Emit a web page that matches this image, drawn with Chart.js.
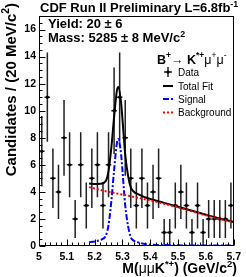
<!DOCTYPE html>
<html>
<head>
<meta charset="utf-8">
<script src="https://cdn.jsdelivr.net/npm/chart.js@4.4.1/dist/chart.umd.min.js"></script>
<style>
    html, body { margin: 0; padding: 0; background: #fff; }
    #wrap { width: 246px; height: 277px; }
</style>
</head>
<body>
<div id="wrap"><canvas id="massChart" width="246" height="277"></canvas></div>
<script>
// bins of 20 MeV/c2, centres in GeV/c2
const binCenters = [5.01, 5.03, 5.05, 5.07, 5.09, 5.11, 5.13, 5.15, 5.17, 5.19, 5.21, 5.23,
    5.25, 5.27, 5.29, 5.31, 5.33, 5.35, 5.37, 5.39, 5.41, 5.43, 5.45, 5.47,
    5.49, 5.51, 5.53, 5.55, 5.57, 5.59, 5.61, 5.63, 5.65, 5.67, 5.69];
const counts = [7, 11, 5, 4, 8, 6, 2, 6, 3, 5, 6, 3,
    6, 10, 11, 8, 5, 3, 5, 3, 4, 5, 1, 1,
    3, 4, 3, 1, 3, 1, 2, 2, 2, 2, 3];
const countErrors = [2.6, 3.3, 2.2, 2.0, 2.8, 2.4, 1.4, 2.4, 1.7, 2.2, 2.4, 1.7,
    2.4, 3.2, 3.3, 2.8, 2.2, 1.7, 2.2, 1.7, 2.0, 2.2, 1.0, 1.0,
    1.7, 2.0, 1.7, 1.0, 1.7, 1.0, 1.4, 1.4, 1.4, 1.4, 1.7];
const binHalfWidth = 0.01;

// fit curves
const fitMass = [5.18, 5.20, 5.22, 5.24, 5.25, 5.26, 5.27, 5.28, 5.285, 5.295, 5.30, 5.31,
    5.32, 5.33, 5.34, 5.36, 5.38, 5.40, 5.45, 5.50, 5.55, 5.60, 5.65, 5.70];
const totalFit = [4.62, 4.58, 4.6, 4.8, 5.55, 7.26, 9.52, 11.48, 11.76, 10.62, 9.4, 6.76,
    5.22, 4.33, 4.03, 3.8, 3.61, 3.47, 3.19, 2.9, 2.6, 2.31, 2.03, 1.78];
const signalFit = [0.27, 0.33, 0.45, 0.75, 1.55, 3.3, 5.6, 7.6, 7.9, 6.8, 5.6, 3.0,
    1.5, 0.65, 0.4, 0.25, 0.15, 0.1, 0.07, 0.05, 0.04, 0.04, 0.03, 0.03];
const backgroundFit = [4.35, 4.25, 4.15, 4.05, 4.0, 3.96, 3.92, 3.88, 3.86, 3.82, 3.8, 3.76,
    3.72, 3.68, 3.63, 3.55, 3.46, 3.37, 3.12, 2.85, 2.56, 2.27, 2.0, 1.75];

const xTickValues = [5, 5.1, 5.2, 5.3, 5.4, 5.5, 5.6, 5.7];
const xTickLabels = ['5', '5.1', '5.2', '5.3', '5.4', '5.5', '5.6', '5.7'];
const yTickValues = [0, 2, 4, 6, 8, 10, 12, 14, 16];
const yTickLabels = ['0', '2', '4', '6', '8', '10', '12', '14', '16'];

const FONT = '"Liberation Sans", Arial, Helvetica, sans-serif';

function richWidth(ctx, parts, size, bold) {
    let w = 0;
    parts.forEach(p => {
        const sz = p.sup ? size * 0.68 : size;
        const b = (p.bold !== undefined ? p.bold : bold) ? 'bold ' : '';
        ctx.font = `${b}${sz}px ${FONT}`;
        w += ctx.measureText(p.t).width;
    });
    return w;
}

function drawRich(ctx, parts, x, y, size, bold) {
    let cx = x;
    parts.forEach(p => {
        const sz = p.sup ? size * 0.68 : size;
        const b = (p.bold !== undefined ? p.bold : bold) ? 'bold ' : '';
        ctx.font = `${b}${sz}px ${FONT}`;
        ctx.fillText(p.t, cx, p.sup ? y - size * 0.42 : y);
        cx += ctx.measureText(p.t).width;
    });
}

const rootStyle = {
    id: 'rootStyle',
    beforeDatasetsDraw(chart) {
        const ctx = chart.ctx;
        const xs = chart.scales.x, ys = chart.scales.y;
        ctx.save();
        ctx.strokeStyle = '#222';
        ctx.lineWidth = 1.5;
        binCenters.forEach((m, i) => {
            const px = xs.getPixelForValue(m);
            const py = ys.getPixelForValue(counts[i]);
            ctx.beginPath();
            ctx.moveTo(px, ys.getPixelForValue(Math.max(0, counts[i] - countErrors[i])));
            ctx.lineTo(px, ys.getPixelForValue(counts[i] + countErrors[i]));
            ctx.moveTo(xs.getPixelForValue(m - binHalfWidth), py);
            ctx.lineTo(xs.getPixelForValue(m + binHalfWidth), py);
            ctx.stroke();
        });
        ctx.restore();
    },
    afterDraw(chart) {
        const ctx = chart.ctx;
        const a = chart.chartArea;
        const xs = chart.scales.x, ys = chart.scales.y;
        const L = Math.round(a.left) + 0.5, R = Math.round(a.right) - 0.5;
        const T = Math.round(a.top) + 0.5, B = Math.round(a.bottom) - 0.5;
        ctx.save();
        ctx.strokeStyle = '#000';
        ctx.lineWidth = 1;
        ctx.strokeRect(L, T, R - L, B - T);

        // ticks inside the frame
        ctx.beginPath();
        for (let k = 0; k <= 35; k++) {
            const px = Math.round(xs.getPixelForValue(5 + k * 0.02)) + 0.5;
            const len = k % 5 === 0 ? 6 : 3;
            ctx.moveTo(px, B);
            ctx.lineTo(px, B - len);
        }
        for (let k = 0; k <= 34; k++) {
            const py = Math.round(ys.getPixelForValue(k * 0.5)) + 0.5;
            const len = k % 4 === 0 ? 6 : 3;
            ctx.moveTo(L, py);
            ctx.lineTo(L + len, py);
        }
        ctx.stroke();

        ctx.fillStyle = '#000';
        ctx.textBaseline = 'alphabetic';
        ctx.textAlign = 'left';

        // title
        drawRich(ctx, [{ t: 'CDF Run II Preliminary L=6.8fb' }, { t: '-1', sup: true }], 40, 12, 13, true);

        // fit results
        drawRich(ctx, [{ t: 'Yield: 20 \u00b1 6' }], 48, 28, 13, true);
        drawRich(ctx, [{ t: 'Mass: 5285 \u00b1 8 MeV/c' }, { t: '2', sup: true }], 48, 42, 13, true);

        // axis titles
        const xTitle = [{ t: 'M(' }, { t: '\u03bc\u03bc', bold: false }, { t: 'K' }, { t: '*+', sup: true },
            { t: ') (GeV/c' }, { t: '2', sup: true }, { t: ')' }];
        const xw = richWidth(ctx, xTitle, 14, true);
        drawRich(ctx, xTitle, 237 - xw, 273, 14, true);

        const yTitle = [{ t: 'Candidates / (20 MeV/c' }, { t: '2', sup: true }, { t: ')' }];
        const yw = richWidth(ctx, yTitle, 15, true);
        ctx.save();
        ctx.translate(15.5, 3 + yw);
        ctx.rotate(-Math.PI / 2);
        drawRich(ctx, yTitle, 0, 0, 15, true);
        ctx.restore();

        // legend
        drawRich(ctx, [{ t: 'B' }, { t: '+', sup: true }, { t: '\u2192 ', bold: false }, { t: 'K' }, { t: '*+', sup: true },
            { t: '\u03bc', bold: false }, { t: '+', sup: true, bold: false }, { t: '\u03bc', bold: false }, { t: '-', sup: true, bold: false }],
            157, 63.5, 12.5, true);

        const mx0 = 163, mx1 = 173, tx = 178;
        ctx.lineWidth = 1.5;
        ctx.strokeStyle = '#222';
        ctx.beginPath();
        ctx.moveTo(168, 67); ctx.lineTo(168, 77);
        ctx.moveTo(164, 72); ctx.lineTo(172, 72);
        ctx.stroke();
        ctx.beginPath();
        ctx.arc(168, 72, 1.5, 0, Math.PI * 2);
        ctx.fillStyle = '#000';
        ctx.fill();

        ctx.lineWidth = 2;
        ctx.strokeStyle = '#000';
        ctx.beginPath(); ctx.moveTo(mx0, 86); ctx.lineTo(mx1, 86); ctx.stroke();
        ctx.strokeStyle = '#0000ff';
        ctx.setLineDash([6, 2, 2, 2]);
        ctx.beginPath(); ctx.moveTo(mx0, 99); ctx.lineTo(mx1, 99); ctx.stroke();
        ctx.strokeStyle = '#ff0000';
        ctx.setLineDash([2, 2]);
        ctx.beginPath(); ctx.moveTo(mx0, 112.5); ctx.lineTo(mx1, 112.5); ctx.stroke();
        ctx.setLineDash([]);

        ctx.fillStyle = '#000';
        ctx.font = `10px ${FONT}`;
        ctx.fillText('Data', tx, 76);
        ctx.fillText('Total Fit', tx, 89.5);
        ctx.fillText('Signal', tx, 102.5);
        ctx.fillText('Background', tx, 116);
        ctx.restore();
    }
};

function curve(ys) {
    return fitMass.map((m, i) => ({ x: m, y: ys[i] }));
}

const tickFont = { family: FONT, size: 10.5, weight: 'bold' };

new Chart(document.getElementById('massChart'), {
    type: 'scatter',
    data: {
        datasets: [
            {
                label: 'Background', data: curve(backgroundFit), showLine: true,
                borderColor: '#ff0000', borderWidth: 2, borderDash: [2, 2],
                pointRadius: 0, cubicInterpolationMode: 'monotone', order: 0
            },
            {
                label: 'Signal', data: curve(signalFit), showLine: true,
                borderColor: '#0000ff', borderWidth: 2, borderDash: [6, 2, 2, 2],
                pointRadius: 0, cubicInterpolationMode: 'monotone', order: 1
            },
            {
                label: 'Total Fit', data: curve(totalFit), showLine: true,
                borderColor: '#000', borderWidth: 2,
                pointRadius: 0, cubicInterpolationMode: 'monotone', order: 2
            },
            {
                label: 'Data', data: binCenters.map((m, i) => ({ x: m, y: counts[i] })),
                pointRadius: 1.6, pointBackgroundColor: '#000', pointBorderWidth: 0, order: 3
            }
        ]
    },
    options: {
        responsive: false,
        animation: false,
        devicePixelRatio: 1,
        layout: { padding: { top: 16, right: 8, left: 0, bottom: 0 } },
        plugins: {
            legend: { display: false },
            title: { display: false },
            tooltip: { enabled: false }
        },
        scales: {
            x: {
                type: 'linear', min: 5, max: 5.7,
                grid: { display: false, drawTicks: false },
                border: { display: false },
                afterFit: s => { s.height = 31; },
                afterBuildTicks: s => { s.ticks = xTickValues.map(v => ({ value: v })); },
                ticks: {
                    callback: (v, i) => xTickLabels[i],
                    font: tickFont, color: '#000', padding: 5,
                    maxRotation: 0, autoSkip: false
                }
            },
            y: {
                type: 'linear', min: 0, max: 17,
                grid: { display: false, drawTicks: false },
                border: { display: false },
                afterFit: s => { s.width = 39; },
                afterBuildTicks: s => { s.ticks = yTickValues.map(v => ({ value: v })); },
                ticks: {
                    callback: (v, i) => yTickLabels[i],
                    font: tickFont, color: '#000', padding: 3, autoSkip: false
                }
            }
        }
    },
    plugins: [rootStyle]
});
</script>
</body>
</html>
